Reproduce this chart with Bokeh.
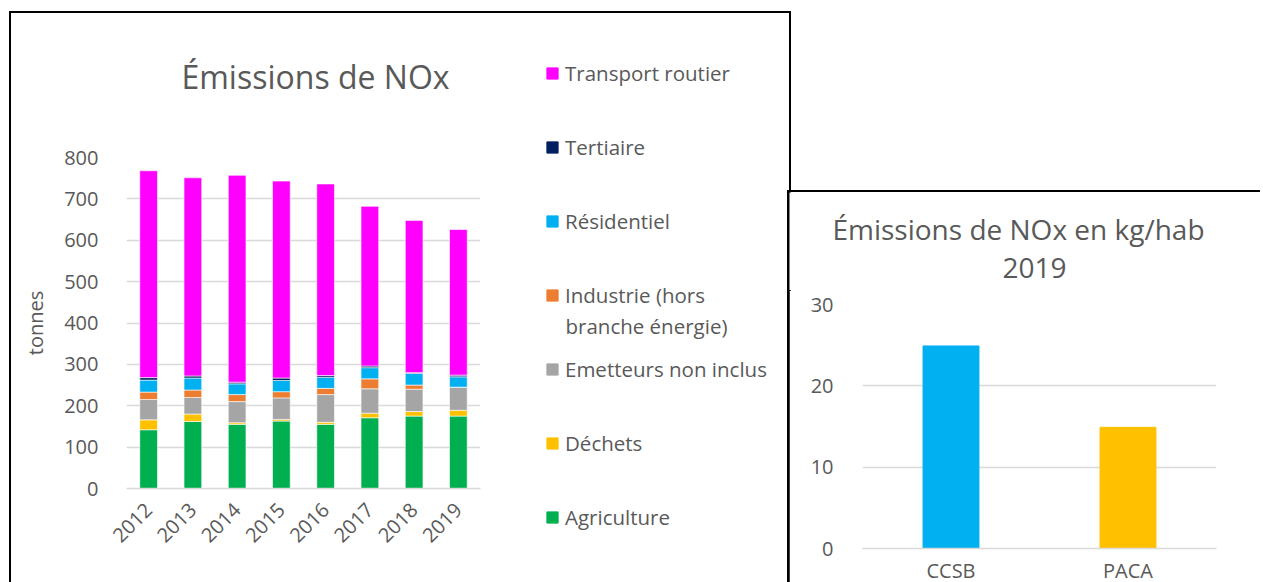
from bokeh.plotting import figure
from bokeh.models import (Label, Legend, LegendItem, FixedTicker, FactorRange,
                          Range1d, ColumnDataSource)
from bokeh.layouts import row, column
from bokeh.embed import file_html
from bokeh.resources import INLINE

# ---------------- data ----------------
years = ["2012", "2013", "2014", "2015", "2016", "2017", "2018", "2019"]
agriculture = [142, 162, 155, 163, 155, 171, 175, 175]
dechets = [24, 18, 4, 4, 5, 11, 11, 14]
emetteurs = [49, 40, 51, 52, 67, 59, 54, 55]
industrie = [18, 18, 17, 15, 15, 24, 10, 1]
residentiel = [29, 29, 26, 27, 27, 27, 28, 25]
tertiaire = [6, 5, 4, 6, 4, 4, 2, 4]
transport = [500, 479, 500, 476, 463, 386, 368, 352]

sectors = ["agriculture", "dechets", "emetteurs", "industrie",
           "residentiel", "tertiaire", "transport"]
sector_labels = ["Agriculture", "Déchets", "Emetteurs non inclus",
                 "Industrie (hors", "Résidentiel", "Tertiaire", "Transport routier"]
industrie_label_line2 = "branche énergie)"
sector_colors = ["#00B050", "#FFC000", "#A5A5A5", "#ED7D31",
                 "#00B0F0", "#002060", "#FF00FF"]

y_ticks_left = [0, 100, 200, 300, 400, 500, 600, 700, 800]

regions = ["CCSB", "PACA"]
kg_hab = [24.9, 14.9]
region_colors = ["#00B0F0", "#FFC000"]
y_ticks_right = [0, 10, 20, 30]

FONT = "Open Sans"
TXT = "#595959"
GRID = "#D9D9D9"


def blank_fig(w, h, x_range=None, y_range=None):
    f = figure(width=w, height=h,
               x_range=x_range if x_range is not None else Range1d(0, 1),
               y_range=y_range if y_range is not None else Range1d(0, 1),
               x_axis_type=None, y_axis_type=None, min_border=0,
               output_backend="svg", toolbar_location=None, title=None)
    f.outline_line_color = None
    f.grid.visible = False
    return f


def style_axes(p, y_ticks, y_standoff, x_standoff, x_orient=None):
    p.outline_line_color = None
    p.xgrid.grid_line_color = None
    p.ygrid.grid_line_color = GRID
    p.ygrid.grid_line_width = 1.5
    p.yaxis.ticker = FixedTicker(ticks=y_ticks)
    p.yaxis.axis_line_color = None
    p.yaxis.major_tick_line_color = None
    p.yaxis.minor_tick_line_color = None
    p.yaxis.major_label_standoff = y_standoff
    p.yaxis.major_label_text_font_size = "20px"
    p.yaxis.major_label_text_color = TXT
    p.yaxis.major_label_text_font = FONT
    p.xaxis.axis_line_color = GRID
    p.xaxis.axis_line_width = 1.5
    p.xaxis.major_tick_line_color = None
    p.xaxis.minor_tick_line_color = None
    p.xaxis.major_label_standoff = x_standoff
    p.xaxis.major_label_text_font_size = "20px"
    p.xaxis.major_label_text_color = TXT
    p.xaxis.major_label_text_font = FONT
    if x_orient is not None:
        p.xaxis.major_label_orientation = x_orient


# ---------------- left chart ----------------
title1 = blank_fig(510, 127)
title1.add_layout(Label(x=304, y=64, x_units="screen", y_units="screen",
                        text="Émissions de NOx", text_align="center",
                        text_baseline="alphabetic", text_font_size="32px",
                        text_color=TXT, text_font=FONT))

src = ColumnDataSource(dict(years=years, agriculture=agriculture, dechets=dechets,
                            emetteurs=emetteurs, industrie=industrie,
                            residentiel=residentiel, tertiaire=tertiaire,
                            transport=transport))

chart1 = figure(x_range=FactorRange(*years), y_range=Range1d(0, 800),
                width=510, height=442, frame_width=354, frame_height=331,
                min_border_left=115, min_border_right=41,
                min_border_top=17, min_border_bottom=94,
                output_backend="svg", toolbar_location=None, title=None)
chart1.vbar_stack(sectors, x="years", width=0.4, color=sector_colors,
                  line_color="white", line_width=0.6, source=src)
style_axes(chart1, y_ticks_left, 22, 12, 0.785398)
chart1.yaxis.axis_label = "tonnes"
chart1.yaxis.axis_label_text_font_size = "20px"
chart1.yaxis.axis_label_text_font_style = "normal"
chart1.yaxis.axis_label_text_color = TXT
chart1.yaxis.axis_label_text_font = FONT
chart1.yaxis.axis_label_standoff = 12

# legend panel: same series, renderers hidden, only the legend is shown
legend_fig = blank_fig(268, 569, x_range=FactorRange(*years), y_range=Range1d(0, 800))
leg_rs = legend_fig.vbar_stack(sectors, x="years", width=0.4, color=sector_colors,
                               source=src, visible=False)
items = [LegendItem(label=lab, renderers=[r])
         for lab, r in zip(sector_labels, leg_rs)][::-1]
legend = Legend(items=items, location=(24, 50), orientation="vertical",
                glyph_width=14, glyph_height=14, label_standoff=6,
                label_height=30, spacing=44, padding=0, margin=0,
                border_line_color=None, background_fill_alpha=0,
                inactive_fill_alpha=0,
                label_text_font_size="20.5px", label_text_color=TXT,
                label_text_font=FONT)
legend_fig.add_layout(legend)
legend_fig.add_layout(Label(x=44, y=257, x_units="screen", y_units="screen",
                            text=industrie_label_line2, text_align="left",
                            text_baseline="middle", text_font_size="20.5px",
                            text_color=TXT, text_font=FONT))

left_box = row(column(row(title1), chart1), legend_fig)
left_box.margin = (13, 0, 0, 11)
left_box.styles = {"box-shadow": "0 0 0 2px #000"}

# ---------------- right chart ----------------
title2 = blank_fig(473, 98)
title2.add_layout(Label(x=229, y=62, x_units="screen", y_units="screen",
                        text="Émissions de NOx en kg/hab", text_align="center",
                        text_baseline="alphabetic", text_font_size="28px",
                        text_color=TXT, text_font=FONT))
title2.add_layout(Label(x=245, y=23, x_units="screen", y_units="screen",
                        text="2019", text_align="center",
                        text_baseline="alphabetic", text_font_size="28px",
                        text_color=TXT, text_font=FONT))

src2 = ColumnDataSource(dict(regions=regions, kg_hab=kg_hab, colors=region_colors))
chart2 = figure(x_range=FactorRange(*regions), y_range=Range1d(0, 30),
                width=473, height=292, frame_width=354, frame_height=244,
                min_border_left=73, min_border_right=46,
                min_border_top=14, min_border_bottom=34,
                output_backend="svg", toolbar_location=None, title=None)
chart2.vbar(x="regions", top="kg_hab", width=0.316, color="colors", source=src2)
style_axes(chart2, y_ticks_right, 23, 2)

right_box = column(row(title2), chart2)
right_box.margin = (192, 0, 0, 0)
right_box.styles = {"box-shadow": "-2px -2px 0 0 #000"}

layout = row(left_box, right_box)
open("out.html", "w").write(file_html(layout, INLINE))
